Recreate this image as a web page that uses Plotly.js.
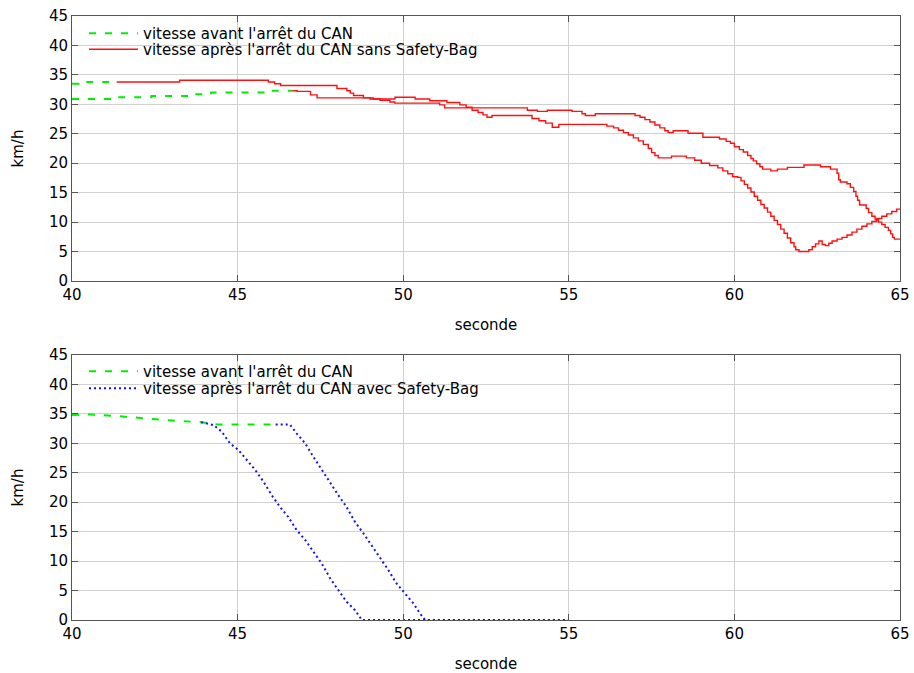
<!DOCTYPE html>
<html>
<head>
<meta charset="utf-8">
<script src="https://cdn.plot.ly/plotly-3.0.1.min.js"></script>
<style>
  html, body { margin: 0; padding: 0; background: #fff; }
  #chart { width: 914px; height: 673px; }
</style>
</head>
<body>
<div id="chart"></div>
<script>
// ---- Labels ----
const labelAvant = "vitesse avant l'arrêt du CAN";
const labelSans = "vitesse après l'arrêt du CAN sans Safety-Bag";
const labelAvec = "vitesse après l'arrêt du CAN avec Safety-Bag";
const xTitle = "seconde";
const yTitle = "km/h";
const xTicks = [40, 45, 50, 55, 60, 65];
const yTicks = [0, 5, 10, 15, 20, 25, 30, 35, 40, 45];

// ---- Top panel: speed before CAN stop (two runs) ----
const avantHautT = [40.0, 40.2, 41.35];
const avantHautV = [33.5, 33.8, 33.8];
const avantBasT = [40.0, 41.3, 42.4, 43.6, 44.2, 46.0, 46.65];
const avantBasV = [30.9, 31.2, 31.4, 31.7, 32.0, 32.3, 32.3];

// ---- Top panel: speed after CAN stop, no Safety-Bag (two runs) ----
const sansAT = [41.35, 43.25, 45.93, 46.12, 46.3, 48.0, 48.3, 48.4, 48.5, 48.8, 49.1, 49.3, 49.6, 49.75,
  51.1, 51.25, 53.75, 54.05, 54.35, 55.1, 55.4, 55.5, 55.8, 57.0, 57.15, 57.3, 57.45, 57.6, 57.75, 57.9,
  58.0, 58.15, 58.6, 59.05, 59.55, 59.75, 59.88, 60.0, 60.15, 60.27, 60.4, 60.5, 60.57, 60.67, 60.77,
  60.85, 61.1, 61.3, 61.6, 62.1, 62.6, 62.9, 63.1, 63.15, 63.2, 63.4, 63.5, 63.6, 63.67, 63.72, 63.78,
  63.98, 64.05, 64.15, 64.25, 64.35, 64.45, 64.55, 64.65, 64.72, 64.78, 64.83, 65.0];
const sansAV = [33.8, 34.1, 33.8, 33.5, 33.2, 32.7, 32.3, 31.9, 31.5, 31.1, 30.9, 30.7, 30.4, 30.2,
  29.9, 29.4, 29.0, 28.8, 29.0, 28.8, 28.4, 28.1, 28.4, 28.1, 27.8, 27.4, 27.0, 26.5, 26.0, 25.5,
  25.2, 25.5, 25.1, 24.4, 24.1, 23.7, 23.4, 22.8, 22.3, 21.9, 21.3, 20.8, 20.4, 19.9, 19.4,
  19.0, 18.7, 19.0, 19.3, 19.7, 19.4, 19.0, 18.3, 17.2, 16.8, 16.5, 15.9, 15.2, 14.4, 13.7, 12.9,
  12.3, 11.6, 11.0, 10.4, 10.0, 9.6, 9.1, 8.6, 8.0, 7.4, 7.1, 7.1];

const sansBT = [46.65, 46.8, 47.2, 47.4, 49.0, 49.75, 50.36, 50.8, 51.32, 51.71, 51.9, 52.08, 52.26,
  52.41, 52.53, 52.68, 53.89, 54.1, 54.3, 54.5, 54.7, 56.15, 56.35, 56.5, 56.65, 56.8, 56.95, 57.1,
  57.25, 57.4, 57.5, 57.6, 57.7, 58.1, 58.55, 58.8, 59.0, 59.25, 59.5, 59.65, 59.8, 59.95, 60.1, 60.2,
  60.3, 60.4, 60.5, 60.6, 60.7, 60.8, 60.9, 61.0, 61.1, 61.2, 61.3, 61.4, 61.5, 61.6, 61.7, 61.8,
  61.85, 61.95, 62.25, 62.35, 62.45, 62.55, 62.65, 62.75, 62.85, 62.95, 63.1, 63.25, 63.4, 63.55,
  63.7, 63.85, 64.0, 64.15, 64.3, 64.45, 64.6, 64.75, 64.9, 65.0];
const sansBV = [32.3, 32.2, 31.6, 31.1, 30.9, 31.2, 30.9, 30.6, 30.3, 29.9, 29.5, 29.0, 28.6,
  28.2, 27.8, 28.1, 27.6, 27.2, 26.8, 26.1, 26.6, 26.3, 26.0, 25.6, 25.2, 24.8, 24.3, 23.8,
  23.2, 22.5, 21.8, 21.3, 20.9, 21.2, 20.9, 20.5, 20.0, 19.6, 19.2, 18.7, 18.2, 17.7, 17.6, 17.0,
  16.4, 15.8, 15.1, 14.4, 13.7, 13.0, 12.4, 11.7, 11.0, 10.3, 9.6, 8.8, 8.1, 7.3, 6.5, 5.8,
  5.3, 5.0, 5.3, 5.8, 6.3, 6.8, 6.2, 6.0, 6.4, 6.8, 7.1, 7.4, 7.8, 8.3,
  8.8, 9.3, 9.7, 10.1, 10.6, 11.0, 11.4, 11.8, 12.2, 12.2];

// ---- Bottom panel: speed before CAN stop ----
const avantT = [40.0, 40.5, 41.2, 41.6, 42.0, 42.4, 42.8, 43.2, 43.9, 44.4, 46.2];
const avantV = [34.8, 34.9, 34.7, 34.5, 34.4, 34.2, 34.0, 33.8, 33.6, 33.2, 33.2];

// ---- Bottom panel: speed after CAN stop, with Safety-Bag (two runs) ----
const avecAT = [43.9, 44.27, 44.52, 44.77, 45.02, 45.27, 45.53, 45.78, 46.03, 46.28, 46.53, 46.78,
  47.04, 47.29, 47.54, 47.79, 48.04, 48.29, 48.54, 48.75, 55.0];
const avecAV = [33.6, 33.1, 32.0, 30.0, 28.9, 27.2, 25.5, 23.5, 21.2, 19.2, 17.5, 15.3,
  13.6, 11.6, 9.6, 7.1, 5.1, 3.1, 1.7, 0, 0];
const avecBT = [46.15, 46.58, 46.78, 47.04, 47.29, 47.54, 47.79, 48.04, 48.29, 48.54, 48.8, 49.05,
  49.3, 49.55, 49.8, 50.05, 50.31, 50.51, 50.66, 55.0];
const avecBV = [33.2, 33.2, 31.7, 30.0, 27.7, 25.5, 23.2, 21.2, 19.2, 16.7, 14.7, 12.7,
  10.7, 8.5, 6.2, 4.5, 2.8, 1.1, 0, 0];

const GREEN = '#00ee00', RED = '#ff1010', BLUE = '#1010ff';
const FONT = 'DejaVu Sans, sans-serif';
const greenLine = { color: GREEN, width: 2, dash: '7px,9px', shape: 'hv' };
const redLine = { color: RED, width: 1.4, shape: 'hv' };
const blueLine = { color: BLUE, width: 2, dash: '2px,3px' };

// Each legend row is its own legend so the rows sit close together
const traces = [
  { x: avantHautT, y: avantHautV, xaxis: 'x', yaxis: 'y', mode: 'lines', line: greenLine, name: labelAvant, legend: 'legend' },
  { x: avantBasT, y: avantBasV, xaxis: 'x', yaxis: 'y', mode: 'lines', line: greenLine, name: labelAvant, showlegend: false },
  { x: sansAT, y: sansAV, xaxis: 'x', yaxis: 'y', mode: 'lines', line: redLine, name: labelSans, legend: 'legend3' },
  { x: sansBT, y: sansBV, xaxis: 'x', yaxis: 'y', mode: 'lines', line: redLine, name: labelSans, showlegend: false },
  { x: avantT, y: avantV, xaxis: 'x2', yaxis: 'y2', mode: 'lines', line: Object.assign({}, greenLine, { shape: 'linear' }), name: labelAvant, legend: 'legend2' },
  { x: avecAT, y: avecAV, xaxis: 'x2', yaxis: 'y2', mode: 'lines', line: blueLine, name: labelAvec, legend: 'legend4' },
  { x: avecBT, y: avecBV, xaxis: 'x2', yaxis: 'y2', mode: 'lines', line: blueLine, name: labelAvec, showlegend: false }
];

function xAxis(anchor) {
  return {
    anchor: anchor, range: [40, 65], tickvals: xTicks, ticktext: xTicks.map(String),
    showgrid: true, gridcolor: '#d0d0d0', gridwidth: 1, zeroline: false,
    showline: true, linecolor: '#555', linewidth: 1, mirror: 'ticks',
    ticks: 'inside', ticklen: 6, tickcolor: '#555',
    tickfont: { family: FONT, size: 15, color: '#000' },
    title: { text: xTitle, font: { family: FONT, size: 15, color: '#000' }, standoff: 16 }
  };
}
function yAxis(anchor, domain) {
  return {
    anchor: anchor, domain: domain, range: [0, 45], tickvals: yTicks, ticktext: yTicks.map(String),
    showgrid: true, gridcolor: '#d0d0d0', gridwidth: 1, zeroline: false,
    showline: true, linecolor: '#555', linewidth: 1, mirror: 'ticks',
    ticks: 'inside', ticklen: 6, tickcolor: '#555',
    tickfont: { family: FONT, size: 15, color: '#000' },
    title: { text: yTitle, font: { family: FONT, size: 15, color: '#000' }, standoff: 21 }
  };
}

const legendStyle = {
  bgcolor: 'rgba(0,0,0,0)', borderwidth: 0, xanchor: 'left', yanchor: 'top', itemwidth: 49,
  font: { family: FONT, size: 15, color: '#000' }
};

const layout = {
  width: 914, height: 673,
  margin: { l: 72, r: 14, t: 16, b: 53 },
  paper_bgcolor: '#fff', plot_bgcolor: '#fff',
  font: { family: FONT, size: 15, color: '#000' },
  xaxis: xAxis('y'),
  yaxis: yAxis('x', [0.5613, 1]),
  xaxis2: xAxis('y2'),
  yaxis2: yAxis('x2', [0, 0.4387]),
  legend: Object.assign({ x: 0.0145, y: 0.9983 }, legendStyle),
  legend3: Object.assign({ x: 0.0145, y: 0.9719 }, legendStyle),
  legend2: Object.assign({ x: 0.0145, y: 0.4387 }, legendStyle),
  legend4: Object.assign({ x: 0.0145, y: 0.4106 }, legendStyle),
  showlegend: true
};

Plotly.newPlot('chart', traces, layout, { displayModeBar: false, staticPlot: true });
</script>
</body>
</html>
